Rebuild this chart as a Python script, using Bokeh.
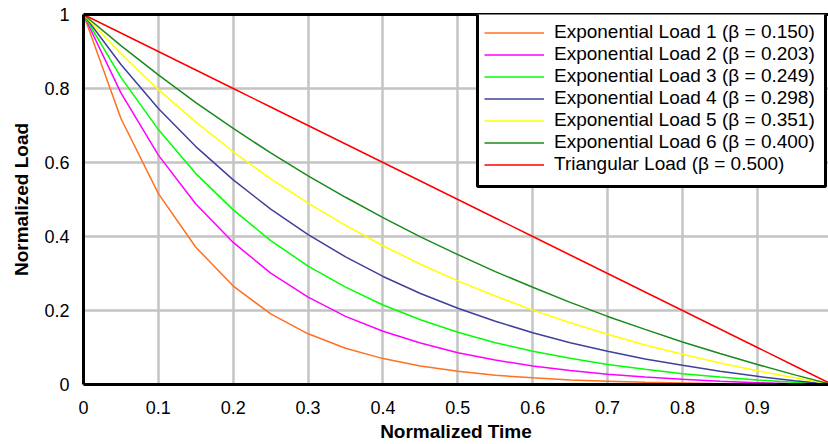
from bokeh.plotting import figure
from bokeh.models import Range1d, FixedTicker, LinearAxis, Legend, BoxAnnotation
from bokeh.embed import file_html
from bokeh.resources import INLINE

# ---- data ----
time = [0.00, 0.05, 0.10, 0.15, 0.20, 0.25, 0.30, 0.35, 0.40, 0.45, 0.50,
        0.55, 0.60, 0.65, 0.70, 0.75, 0.80, 0.85, 0.90, 0.95, 1.00]

exp_load_1 = [1.000, 0.719, 0.516, 0.371, 0.266, 0.191, 0.137, 0.098, 0.070, 0.050, 0.036,
              0.025, 0.018, 0.012, 0.009, 0.006, 0.004, 0.002, 0.001, 0.001, 0.000]
exp_load_2 = [1.000, 0.788, 0.620, 0.488, 0.384, 0.301, 0.236, 0.184, 0.144, 0.112, 0.086,
              0.066, 0.050, 0.038, 0.028, 0.020, 0.014, 0.009, 0.005, 0.002, 0.000]
exp_load_3 = [1.000, 0.830, 0.689, 0.570, 0.472, 0.389, 0.320, 0.263, 0.215, 0.175, 0.141,
              0.113, 0.090, 0.071, 0.054, 0.041, 0.029, 0.020, 0.012, 0.006, 0.000]
exp_load_4 = [1.000, 0.865, 0.746, 0.643, 0.553, 0.474, 0.405, 0.345, 0.292, 0.246, 0.206,
              0.171, 0.140, 0.113, 0.090, 0.069, 0.052, 0.036, 0.022, 0.010, 0.000]
exp_load_5 = [1.000, 0.894, 0.797, 0.709, 0.629, 0.556, 0.490, 0.430, 0.375, 0.325, 0.280,
              0.239, 0.201, 0.167, 0.136, 0.107, 0.082, 0.058, 0.037, 0.018, 0.000]
exp_load_6 = [1.000, 0.916, 0.837, 0.762, 0.692, 0.626, 0.564, 0.506, 0.451, 0.399, 0.351,
              0.305, 0.263, 0.222, 0.184, 0.149, 0.115, 0.084, 0.054, 0.026, 0.000]
triangular = [1.00, 0.95, 0.90, 0.85, 0.80, 0.75, 0.70, 0.65, 0.60, 0.55, 0.50,
              0.45, 0.40, 0.35, 0.30, 0.25, 0.20, 0.15, 0.10, 0.05, 0.00]

series_labels = [
    "Exponential Load 1 (\u03b2 = 0.150)",
    "Exponential Load 2 (\u03b2 = 0.203)",
    "Exponential Load 3 (\u03b2 = 0.249)",
    "Exponential Load 4 (\u03b2 = 0.298)",
    "Exponential Load 5 (\u03b2 = 0.351)",
    "Exponential Load 6 (\u03b2 = 0.400)",
    "Triangular Load (\u03b2 = 0.500)",
]
series_values = [exp_load_1, exp_load_2, exp_load_3, exp_load_4,
                 exp_load_5, exp_load_6, triangular]
series_colors = ["#ff7020", "#ff00ff", "#00ff00", "#40409c",
                 "#ffff00", "#1a8a1a", "#ff0000"]

x_ticks = [0, 0.1, 0.2, 0.3, 0.4, 0.5, 0.6, 0.7, 0.8, 0.9]
x_tick_labels = ["0", "0.1", "0.2", "0.3", "0.4", "0.5", "0.6", "0.7", "0.8", "0.9"]
y_ticks = [0, 0.2, 0.4, 0.6, 0.8, 1]
y_tick_labels = ["0", "0.2", "0.4", "0.6", "0.8", "1"]

FONT = "Liberation Sans"

p = figure(width=828, height=444, output_backend="svg", toolbar_location=None,
           x_range=Range1d(0, 0.995), y_range=Range1d(0, 1),
           min_border_left=83, min_border_right=0, min_border_top=14,
           min_border_bottom=56)
p.outline_line_color = None
p.background_fill_color = "white"
p.border_fill_color = "white"

# grid
p.xgrid.ticker = FixedTicker(ticks=x_ticks)
p.ygrid.ticker = FixedTicker(ticks=y_ticks)
for g in (p.xgrid, p.ygrid):
    g.grid_line_color = "#c4c4c4"
    g.grid_line_width = 2.5

# axes
xa = p.xaxis[0]
ya = p.yaxis[0]
xa.ticker = FixedTicker(ticks=x_ticks)
ya.ticker = FixedTicker(ticks=y_ticks)
xa.major_label_overrides = {t: l for t, l in zip(x_ticks, x_tick_labels)}
ya.major_label_overrides = {t: l for t, l in zip(y_ticks, y_tick_labels)}
xa.axis_label = "Normalized Time"
ya.axis_label = "Normalized Load"
for ax in (xa, ya):
    ax.axis_line_width = 3
    ax.axis_line_color = "black"
    ax.major_tick_line_color = None
    ax.minor_tick_line_color = None
    ax.major_label_text_font = FONT
    ax.major_label_text_font_size = "18px"
    ax.major_label_text_color = "black"
    ax.axis_label_text_font = FONT
    ax.axis_label_text_font_size = "19px"
    ax.axis_label_text_font_style = "bold"
    ax.axis_label_text_color = "black"
xa.major_label_standoff = 10
ya.major_label_standoff = 8
xa.axis_label_standoff = 4
ya.axis_label_standoff = 9

top_axis = LinearAxis(ticker=FixedTicker(ticks=[]), axis_line_width=3,
                      axis_line_color="black", major_tick_line_color=None,
                      minor_tick_line_color=None, major_label_text_font_size="0px")
p.add_layout(top_axis, "above")

renderers = []
for vals, lab, col in zip(series_values, series_labels, series_colors):
    r = p.line(time, vals, line_color=col, line_width=1.5)
    renderers.append((lab, [r]))

# legend frame (screen units, relative to the plot frame's bottom-left corner)
legend_box = BoxAnnotation(left=394, right=742, top=375, bottom=198,
                           left_units="screen", right_units="screen",
                           top_units="screen", bottom_units="screen",
                           fill_color="white", fill_alpha=1,
                           line_color="black", line_width=3, line_alpha=1)
p.add_layout(legend_box)

legend = Legend(items=renderers, location=(401, 209))
legend.label_text_font = FONT
legend.label_text_font_size = "19px"
legend.label_text_color = "black"
legend.label_height = 21
legend.glyph_height = 21
legend.glyph_width = 60
legend.label_standoff = 10
legend.spacing = 0
legend.padding = 10
legend.margin = 0
legend.border_line_color = None
legend.background_fill_alpha = 0
p.add_layout(legend, "center")

open("out.html", "w").write(file_html(p, INLINE))
